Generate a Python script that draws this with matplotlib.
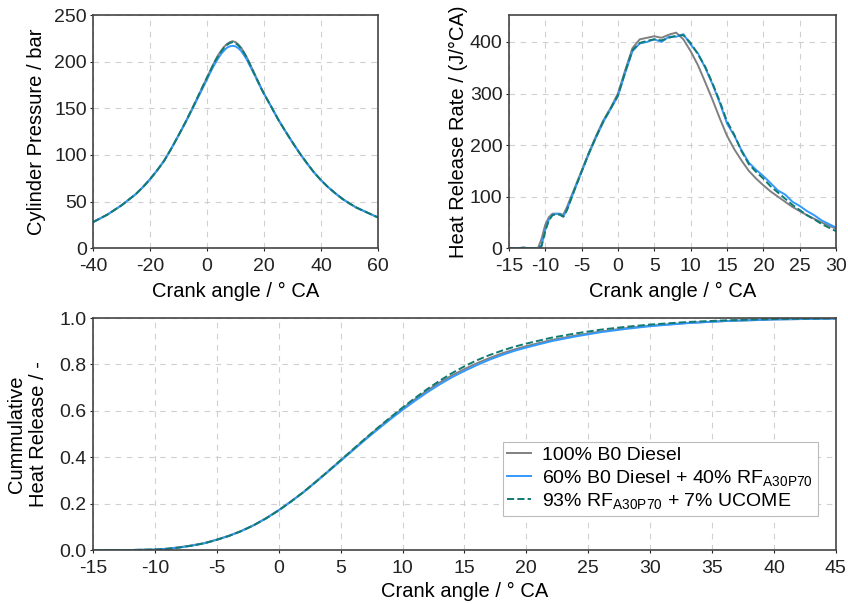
import matplotlib
matplotlib.use("Agg")
import matplotlib.pyplot as plt

plt.rcParams["font.family"] = ["Liberation Sans", "DejaVu Sans"]
plt.rcParams["mathtext.default"] = "regular"
plt.rcParams["axes.unicode_minus"] = False

LABELS = ["100% B0 Diesel",
          r"60% B0 Diesel + 40% RF$_{A30P70}$",
          r"93% RF$_{A30P70}$ + 7% UCOME"]
COLORS = ["#808080", "#3399ff", "#117a72"]
STYLES = ["-", "-", "--"]

# cylinder pressure
ca_p = [-40, -37.5, -35, -32.5, -30, -27.5, -25, -22.5, -20, -17.5, -15, -12.5, -10, -7.5,
        -5, -2.5, 0, 1, 2, 3, 4, 5, 6, 7, 8, 9, 10, 11, 12, 13, 14, 15, 16, 17, 18, 19, 20,
        22.5, 25, 27.5, 30, 32.5, 35, 37.5, 40, 42.5, 45, 47.5, 50, 52.5, 55, 57.5, 60]
p_b0 = [28, 32, 36, 41, 46, 52, 58, 65.5, 74, 83.5, 94, 107, 121, 135.5,
        151, 167, 183, 189.5, 196, 202, 207.5, 212, 216, 219, 221, 222, 221, 218.5, 215, 210, 204.5, 198, 191.5, 185, 178.5, 172, 166,
        152, 138, 125.5, 113.5, 102, 91.5, 81.5, 73, 65.5, 59, 53, 48, 43.5, 40, 36.5, 33]
p_b60 = [28, 32, 36, 41, 46, 52, 58, 65.5, 74, 83.5, 94, 107, 121, 135,
         150, 165.5, 181, 187.5, 193.5, 199, 204, 208.5, 212, 215, 216.5, 217, 216.5, 214.5, 211.5, 207, 202, 196, 190, 184, 177.5, 171.5, 165.5,
         152, 138, 125.5, 113.5, 102, 91.5, 81.5, 73, 65.5, 59, 53, 48, 43.5, 40, 36.5, 33]
p_rf = [28, 32, 36, 41, 46, 52, 58, 65.5, 74, 83.5, 94, 107, 121, 135.5,
        151, 167, 183, 189, 195.5, 201.5, 206.5, 211, 215, 218, 220, 221, 220, 217.5, 214, 209.5, 204, 197.5, 191, 184.5, 178, 171.5, 165.5,
        152, 138, 125.5, 113.5, 102, 91.5, 81.5, 73, 65.5, 59, 53, 48, 43.5, 40, 36.5, 33]

# heat release rate
ca_h = [-15, -14, -13, -12, -11, -10.5, -10, -9.5, -9, -8.5, -8, -7.5, -7, -6, -5, -4, -3,
        -2, -1, 0, 1, 2, 3, 4, 5, 6, 7, 8, 9, 10, 11, 12, 13, 14, 15, 16, 17, 18, 19, 20,
        21, 22, 23, 24, 25, 26, 27, 28, 29, 30]
h_b0 = [0, 0, 1, 0, 0, 18, 45, 60, 67, 67, 67, 65, 80, 115, 150, 185, 218,
        248, 272, 300, 345, 388, 405, 408, 411, 408, 414, 418, 405, 382, 355, 322, 288, 252, 218, 192, 170, 150, 135, 122,
        110, 100, 90, 80, 72, 64, 57, 50, 44, 38]
h_b60 = [0, 0, 1, 0, 0, 5, 35, 55, 65, 67, 66, 62, 75, 112, 148, 183, 215,
         245, 270, 295, 340, 382, 397, 400, 405, 400, 410, 410, 415, 395, 378, 350, 318, 282, 242, 218, 190, 166, 152, 140,
         126, 112, 104, 90, 82, 72, 64, 54, 47, 40]
h_rf = [0, 0, 1, 0, 0, 4, 33, 54, 64, 66, 65, 61, 74, 112, 148, 184, 216,
        246, 271, 296, 342, 384, 398, 402, 405, 403, 408, 412, 413, 398, 376, 352, 320, 285, 246, 220, 188, 163, 148, 135,
        120, 108, 96, 84, 74, 64, 56, 47, 40, 33]

# cumulative heat release
ca_c = [-15, -12, -10, -9, -8, -7, -6, -5, -4, -3, -2, -1, 0, 1, 2, 3, 4, 5, 6, 7, 8, 9, 10,
        11, 12, 13, 14, 15, 16, 17, 18, 19, 20, 22, 24, 26, 28, 30, 33, 36, 40, 45]
c_b0 = [0, 0, 0.002, 0.006, 0.012, 0.02, 0.03, 0.045, 0.062, 0.083, 0.108, 0.138, 0.172, 0.21,
        0.25, 0.295, 0.34, 0.387, 0.433, 0.48, 0.525, 0.568, 0.61, 0.65, 0.688, 0.722, 0.753, 0.78,
        0.805, 0.827, 0.847, 0.864, 0.879, 0.905, 0.925, 0.942, 0.956, 0.967, 0.979, 0.987, 0.994, 0.998]
c_b60 = [0, 0, 0.002, 0.005, 0.011, 0.019, 0.029, 0.044, 0.061, 0.082, 0.107, 0.137, 0.171, 0.209,
         0.249, 0.293, 0.338, 0.384, 0.43, 0.476, 0.52, 0.563, 0.604, 0.643, 0.68, 0.714, 0.745, 0.772,
         0.797, 0.82, 0.84, 0.858, 0.873, 0.9, 0.921, 0.939, 0.953, 0.965, 0.978, 0.987, 0.994, 0.998]
c_rf = [0, 0, 0.002, 0.005, 0.011, 0.019, 0.029, 0.044, 0.061, 0.082, 0.107, 0.137, 0.171, 0.209,
        0.25, 0.294, 0.34, 0.387, 0.434, 0.481, 0.527, 0.571, 0.614, 0.655, 0.694, 0.73, 0.763, 0.792,
        0.818, 0.84, 0.859, 0.876, 0.89, 0.915, 0.934, 0.95, 0.962, 0.972, 0.983, 0.99, 0.996, 0.999]

fig = plt.figure(figsize=(8.48, 6.04), dpi=100)
ax1 = fig.add_axes([0.1097, 0.589, 0.336, 0.386])
ax2 = fig.add_axes([0.600, 0.589, 0.386, 0.386])
ax3 = fig.add_axes([0.1097, 0.0894, 0.876, 0.384])

FS_TICK = 14
FS_LAB = 14.5


def style(ax):
    ax.grid(True, color="#d0d0d0", linestyle=(0, (5, 5)), linewidth=0.8)
    ax.set_axisbelow(True)
    for s in ax.spines.values():
        s.set_color("#444444")
        s.set_linewidth(1.2)
    ax.tick_params(labelsize=FS_TICK, colors="#222222", length=2.5, width=0.8)
    ax.tick_params(axis="x", pad=4.5)
    ax.tick_params(axis="y", pad=2)


for ys, c, ls in zip([p_b0, p_b60, p_rf], COLORS, STYLES):
    ax1.plot(ca_p, ys, color=c, ls=ls, lw=1.4)
ax1.set_xlim(-40, 60); ax1.set_ylim(0, 250)
ax1.set_xticks([-40, -20, 0, 20, 40, 60])
ax1.set_yticks([0, 50, 100, 150, 200, 250])
ax1.set_xlabel("Crank angle / ° CA", fontsize=FS_LAB, labelpad=5)
ax1.set_ylabel("Cylinder Pressure / bar", fontsize=FS_LAB, labelpad=6)
style(ax1)

for ys, c, ls in zip([h_b0, h_b60, h_rf], COLORS, STYLES):
    ax2.plot(ca_h, ys, color=c, ls=ls, lw=1.4)
ax2.set_xlim(-15, 30); ax2.set_ylim(0, 452)
ax2.set_xticks(range(-15, 31, 5))
ax2.set_yticks([0, 100, 200, 300, 400])
ax2.set_xlabel("Crank angle / ° CA", fontsize=FS_LAB, labelpad=5)
ax2.set_ylabel("Heat Release Rate / (J/°CA)", fontsize=FS_LAB, labelpad=1)
style(ax2)

for ys, c, ls, lab in zip([c_b0, c_b60, c_rf], COLORS, STYLES, LABELS):
    ax3.plot(ca_c, ys, color=c, ls=ls, lw=1.4, label=lab)
ax3.set_xlim(-15, 45); ax3.set_ylim(0, 1.0)
ax3.set_xticks(range(-15, 46, 5))
ax3.set_yticks([0, 0.2, 0.4, 0.6, 0.8, 1.0])
ax3.set_xlabel("Crank angle / ° CA", fontsize=FS_LAB, labelpad=4)
ax3.set_ylabel("Cummulative\nHeat Release / -", fontsize=FS_LAB, labelpad=8)
style(ax3)
leg = ax3.legend(loc="lower right", bbox_to_anchor=(0.976, 0.147), fontsize=14,
                 handlelength=1.2, handletextpad=0.6, labelspacing=0.18,
                 borderpad=0.25, borderaxespad=0, fancybox=False, framealpha=1)
leg.get_frame().set_edgecolor("#bbbbbb")
leg.get_frame().set_linewidth(0.8)

fig.savefig("out.png", dpi=100, facecolor="white")
